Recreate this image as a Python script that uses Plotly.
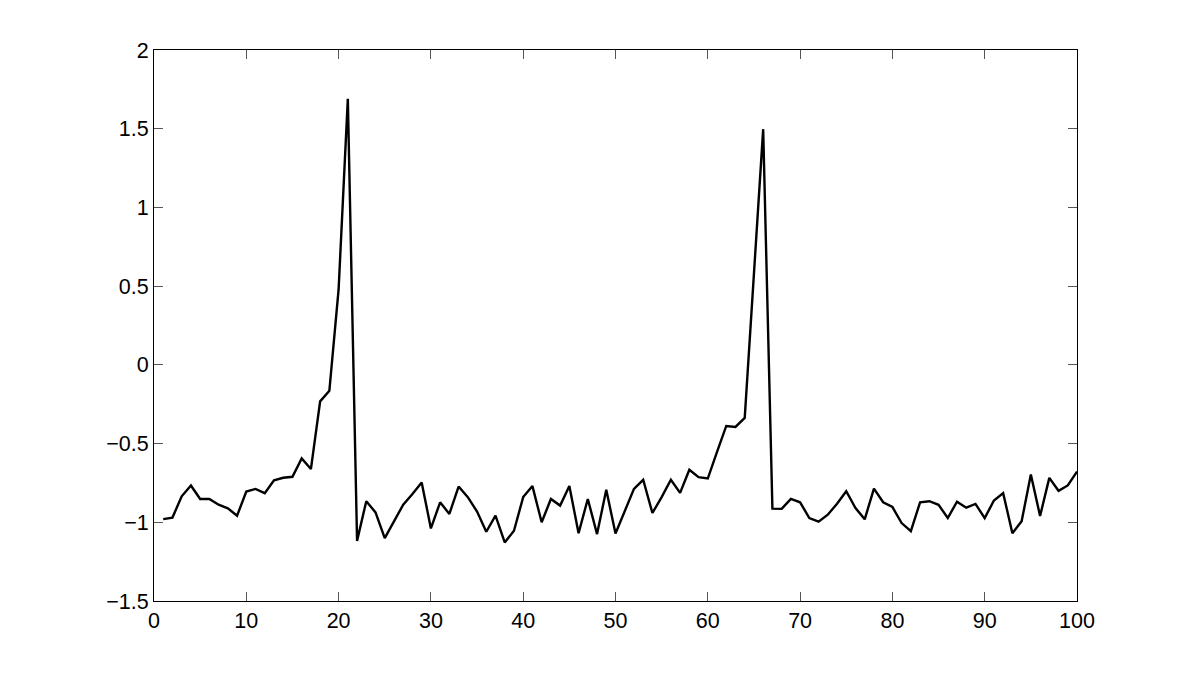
import plotly.graph_objects as go

# sample index 1..100
x_idx = list(range(1, 101))

# signal values
signal = [
    -0.98, -0.97, -0.835, -0.766, -0.852, -0.852, -0.888, -0.911, -0.958, -0.805,
    -0.788, -0.815, -0.734, -0.717, -0.711, -0.594, -0.662, -0.232, -0.164, 0.479,
    1.69, -1.118, -0.866, -0.937, -1.101, -0.99, -0.888, -0.82, -0.747, -1.039,
    -0.873, -0.947, -0.773, -0.84, -0.932, -1.06, -0.958, -1.128, -1.054, -0.84,
    -0.77, -1.0, -0.852, -0.894, -0.77, -1.069, -0.852, -1.075, -0.794, -1.071,
    -0.926, -0.788, -0.73, -0.941, -0.84, -0.73, -0.813, -0.666, -0.713, -0.722,
    -0.553, -0.388, -0.394, -0.337, 0.58, 1.497, -0.913, -0.915, -0.852, -0.873,
    -0.973, -0.996, -0.952, -0.882, -0.803, -0.909, -0.981, -0.786, -0.873, -0.903,
    -1.005, -1.056, -0.873, -0.866, -0.889, -0.973, -0.869, -0.907, -0.883, -0.973,
    -0.862, -0.815, -1.069, -0.994, -0.697, -0.96, -0.718, -0.8, -0.766, -0.678,
]

x_ticks = [0, 10, 20, 30, 40, 50, 60, 70, 80, 90, 100]
y_ticks = [-1.5, -1, -0.5, 0, 0.5, 1, 1.5, 2]

fig = go.Figure()
fig.add_trace(go.Scatter(
    x=x_idx, y=signal, mode='lines',
    line=dict(color='black', width=2.4),
    showlegend=False, hoverinfo='skip'
))

axis_style = dict(
    showgrid=False, zeroline=False,
    showline=True, linecolor='black', linewidth=1, mirror='ticks',
    ticks='inside', ticklen=9, tickwidth=1, tickcolor='#555555',
    tickfont=dict(family='Liberation Sans, Arial, sans-serif', size=21.5, color='black'),
)

fig.update_xaxes(range=[0, 100], tickvals=x_ticks, **axis_style)
fig.update_yaxes(range=[-1.5, 2], tickvals=y_ticks, **axis_style)

# page body has an 8px margin, so the figure is sized to fit the window
fig.update_layout(
    width=1181, height=667,
    margin=dict(l=146, r=112, t=42, b=74),
    plot_bgcolor='white', paper_bgcolor='white',
)

fig.write_html("out.html")
